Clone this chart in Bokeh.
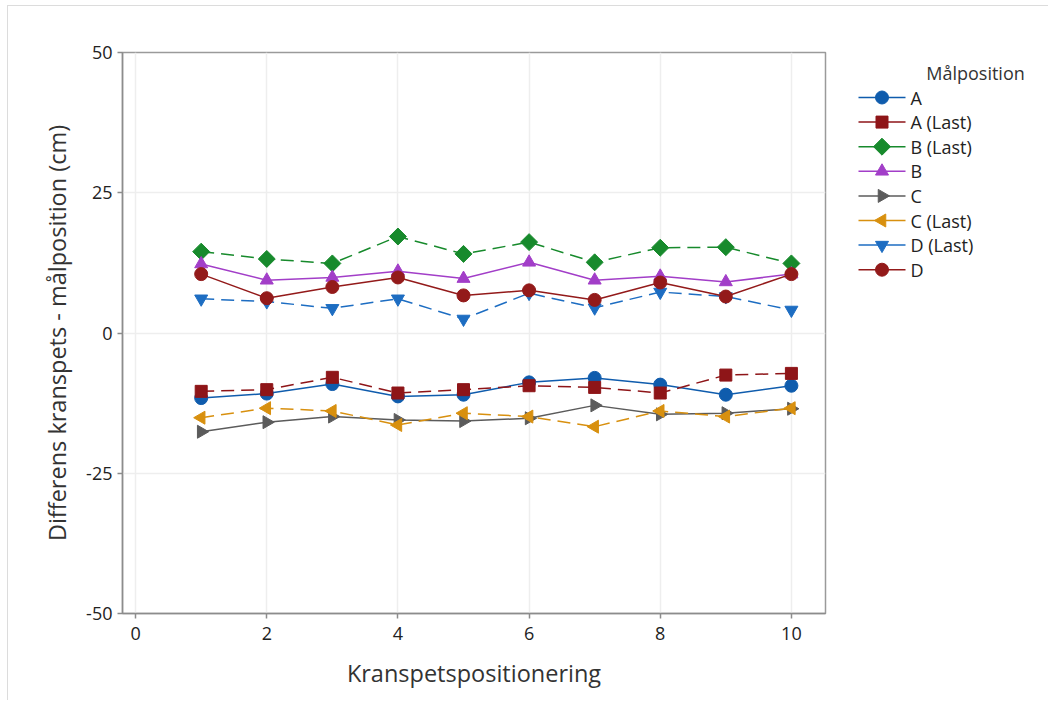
import math
from bokeh.plotting import figure
from bokeh.models import Range1d, FixedTicker
from bokeh.layouts import row
from bokeh.core.properties import value
from bokeh.embed import file_html
from bokeh.resources import INLINE

# ---- data ----
positions = [1, 2, 3, 4, 5, 6, 7, 8, 9, 10]
labels = ["A", "A (Last)", "B (Last)", "B", "C", "C (Last)", "D (Last)", "D"]
A = [-11.6, -10.8, -9.1, -11.3, -11.0, -8.8, -8.0, -9.2, -11.0, -9.4]
A_last = [-10.4, -10.1, -7.9, -10.7, -10.1, -9.4, -9.7, -10.7, -7.5, -7.2]
B_last = [14.5, 13.2, 12.4, 17.2, 14.1, 16.2, 12.6, 15.2, 15.3, 12.4]
B = [12.3, 9.4, 9.9, 11.0, 9.7, 12.6, 9.4, 10.1, 9.1, 10.5]
C = [-17.6, -15.9, -14.9, -15.5, -15.7, -15.2, -12.9, -14.5, -14.3, -13.5]
C_last = [-15.1, -13.4, -13.9, -16.4, -14.3, -14.9, -16.7, -13.9, -14.9, -13.4]
D_last = [6.1, 5.6, 4.4, 6.1, 2.5, 7.1, 4.5, 7.3, 6.5, 4.1]
D = [10.5, 6.2, 8.2, 9.9, 6.7, 7.6, 5.9, 9.0, 6.5, 10.5]
y_ticks = [-50, -25, 0, 25, 50]
x_ticks = [0, 2, 4, 6, 8, 10]
legend_title = "Målposition"

FONT = "Open Sans"

values = [A, A_last, B_last, B, C, C_last, D_last, D]
styles = [
    ("#0f5cad", "solid", "circle", 0.0, 13),
    ("#8e1518", "13 7", "square", 0.0, 12),
    ("#178a2c", "13 7", "square", math.pi / 4, 12),
    ("#a23ec8", "solid", "triangle", 0.0, 13),
    ("#5b5b5b", "solid", "triangle", -math.pi / 2, 13),
    ("#d8900f", "13 7", "triangle", math.pi / 2, 13),
    ("#1d6dc2", "13 7", "inverted_triangle", 0.0, 13),
    ("#931a1a", "solid", "circle", 0.0, 13),
]

TOP, FH, BOT = 52, 561, 87

# ---- main plot ----
p = figure(frame_width=703, frame_height=FH, output_backend="svg",
           toolbar_location=None,
           x_range=Range1d(-0.2, 10.52), y_range=Range1d(-50, 50),
           min_border_left=122, min_border_top=TOP, min_border_right=10,
           min_border_bottom=BOT)
p.border_fill_alpha = 0

p.xaxis.ticker = FixedTicker(ticks=x_ticks)
p.yaxis.ticker = FixedTicker(ticks=y_ticks)
p.yaxis.major_label_overrides = {t: str(t) for t in y_ticks}
p.xaxis.axis_label = "Kranspetspositionering"
p.yaxis.axis_label = "Differens kranspets - målposition (cm)"

for ax in (p.xaxis[0], p.yaxis[0]):
    ax.axis_line_color = "#8c8c8c"
    ax.axis_line_width = 1.5
    ax.major_tick_line_color = "#8c8c8c"
    ax.major_tick_line_width = 1.5
    ax.major_tick_out = 5
    ax.major_tick_in = 0
    ax.minor_tick_out = 0
    ax.minor_tick_in = 0
    ax.major_label_text_font = FONT
    ax.major_label_text_font_size = "18px"
    ax.major_label_text_color = "#222222"
    ax.axis_label_text_font = FONT
    ax.axis_label_text_font_size = "23.5px"
    ax.axis_label_text_font_style = "normal"
    ax.axis_label_text_color = "#333333"
p.xaxis.major_label_standoff = 8
p.xaxis.axis_label_standoff = 14
p.yaxis.major_label_standoff = 5
p.yaxis.axis_label_standoff = 10

p.outline_line_color = "#9a9a9a"
p.outline_line_width = 1.5
p.grid.grid_line_color = "#eeeeee"
p.grid.grid_line_width = 1.5

for vals, (color, dash, marker, angle, size) in zip(values, styles):
    p.line(positions, vals, line_color=color, line_width=1.5, line_dash=dash)
    p.scatter(positions, vals, marker=marker, size=size, angle=angle,
              fill_color=color, line_color=color)

# ---- legend panel (separate figure; y measured in pixels from the page top) ----
LW = 213
lg = figure(frame_width=LW, frame_height=FH, output_backend="svg",
            toolbar_location=None,
            x_range=Range1d(0, LW), y_range=Range1d(TOP + FH, TOP),
            x_axis_type=None, y_axis_type=None, min_border_left=0,
            min_border_right=0, min_border_top=TOP, min_border_bottom=BOT)
lg.outline_line_color = None
lg.border_fill_alpha = 0
lg.background_fill_alpha = 0

lg.text(x=[140], y=[72], text=[legend_title], text_font=value(FONT),
        text_font_size="18px", text_align="center", text_baseline="middle",
        text_color="#333333")
for i, (name, (color, dash, marker, angle, size)) in enumerate(zip(labels, styles)):
    yy = 97 + i * 24.6
    lg.segment(x0=[23], y0=[yy], x1=[70], y1=[yy], line_color=color, line_width=1.5)
    lg.scatter(x=[46.5], y=[yy], marker=marker, size=size, angle=angle,
               fill_color=color, line_color=color)
    lg.text(x=[75], y=[yy], text=[name], text_font=value(FONT),
            text_font_size="18px", text_baseline="middle", text_color="#222222")

layout = row(p, lg)
layout.styles = {"box-shadow": "inset 7px 5px 0 0 #ffffff, inset 8px 6px 0 0 #dcdcdc",
                 "background": "#ffffff"}

open("out.html", "w").write(file_html(layout, INLINE))
